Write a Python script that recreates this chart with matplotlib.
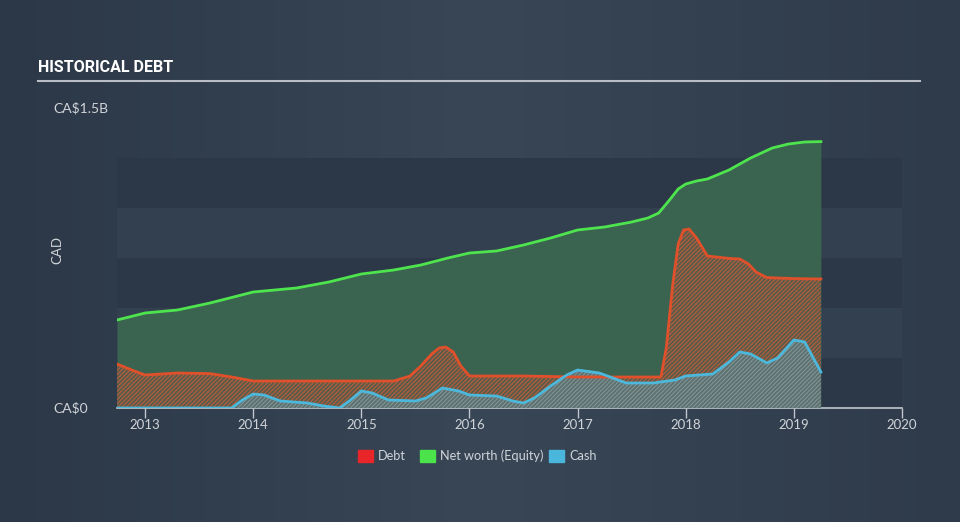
import matplotlib.pyplot as plt
import matplotlib.colors as mcolors
import numpy as np

# values in CA$ billions, x in decimal years
equity_x = [2012.74, 2013.0, 2013.3, 2013.6, 2014.0, 2014.4, 2014.7, 2015.0,
            2015.3, 2015.55, 2015.8, 2016.0, 2016.25, 2016.5, 2016.75, 2017.0,
            2017.25, 2017.5, 2017.65, 2017.75, 2017.85, 2017.93, 2018.0,
            2018.1, 2018.2, 2018.4, 2018.6, 2018.8, 2018.95, 2019.1, 2019.25]
equity_y = [0.44, 0.475, 0.49, 0.525, 0.58, 0.60, 0.63, 0.67,
            0.69, 0.715, 0.75, 0.775, 0.785, 0.815, 0.85, 0.89,
            0.905, 0.93, 0.95, 0.975, 1.04, 1.095, 1.12,
            1.135, 1.145, 1.19, 1.25, 1.30, 1.32, 1.33, 1.332]

debt_x = [2012.74, 2012.9, 2013.0, 2013.3, 2013.6, 2013.8, 2014.0, 2014.5,
          2015.0, 2015.3, 2015.45, 2015.55, 2015.65, 2015.72, 2015.78, 2015.85,
          2015.92, 2016.0, 2016.5, 2017.0, 2017.5, 2017.77, 2017.82, 2017.88,
          2017.93, 2017.98, 2018.03, 2018.1, 2018.2, 2018.4, 2018.5, 2018.58,
          2018.65, 2018.75, 2019.0, 2019.25]
debt_y = [0.22, 0.185, 0.165, 0.175, 0.172, 0.155, 0.135, 0.135,
          0.135, 0.135, 0.16, 0.21, 0.27, 0.30, 0.305, 0.28,
          0.21, 0.16, 0.16, 0.155, 0.155, 0.155, 0.30, 0.62,
          0.82, 0.89, 0.895, 0.85, 0.76, 0.748, 0.745, 0.72,
          0.68, 0.652, 0.647, 0.645]

cash_x = [2012.74, 2013.0, 2013.5, 2013.8, 2013.9, 2014.0, 2014.1, 2014.25,
          2014.5, 2014.65, 2014.8, 2014.9, 2015.0, 2015.1, 2015.25, 2015.5,
          2015.6, 2015.75, 2015.9, 2016.0, 2016.25, 2016.4, 2016.5, 2016.6,
          2016.75, 2016.9, 2017.0, 2017.2, 2017.45, 2017.7, 2017.9, 2018.0,
          2018.25, 2018.4, 2018.5, 2018.6, 2018.75, 2018.85, 2019.0, 2019.1,
          2019.25]
cash_y = [0.0, 0.0, 0.0, 0.0, 0.04, 0.07, 0.065, 0.035,
          0.025, 0.01, 0.0, 0.04, 0.085, 0.075, 0.04, 0.035,
          0.05, 0.10, 0.085, 0.065, 0.06, 0.035, 0.025, 0.05,
          0.11, 0.165, 0.19, 0.175, 0.125, 0.125, 0.14, 0.16,
          0.17, 0.23, 0.28, 0.27, 0.225, 0.25, 0.34, 0.33,
          0.18]

year_ticks = [2013, 2014, 2015, 2016, 2017, 2018, 2019, 2020]

text_col = '#d0d4d9'

fig = plt.figure(figsize=(9.6, 5.22), dpi=100)
fig.patch.set_facecolor('#323f4f')

# soft background gradient
bg = fig.add_axes([0, 0, 1, 1], zorder=-10)
grad = np.linspace(0, 1, 256).reshape(1, -1)
cmap = mcolors.LinearSegmentedColormap.from_list('bg', ['#2c3847', '#384656', '#2f3b4a'])
bg.imshow(grad, aspect='auto', cmap=cmap, extent=[0, 1, 0, 1])
bg.set_axis_off()

ax = fig.add_axes([117 / 960, 1 - 408 / 522, 785 / 960, 300 / 522])
ax.set_facecolor('none')
ax.set_xlim(2012.74, 2020.0)
ax.set_ylim(0, 1.5)

# horizontal bands
band_edges = [0, 0.25, 0.5, 0.75, 1.0, 1.25]
for i in range(len(band_edges) - 1):
    c = '#2c3847' if i % 2 == 0 else '#334050'
    ax.axhspan(band_edges[i], band_edges[i + 1], color=c, zorder=0, lw=0)

plt.rcParams['hatch.linewidth'] = 0.8

ax.fill_between(equity_x, equity_y, color='#3a6350', zorder=1, lw=0)
ax.plot(equity_x, equity_y, color='#4ee44e', lw=2, zorder=5)

ax.fill_between(debt_x, debt_y, facecolor='#5b5a4a', edgecolor='#b5603c',
                hatch='////////', lw=0, zorder=2)
ax.plot(debt_x, debt_y, color='#e0502a', lw=2, zorder=5)

ax.fill_between(cash_x, cash_y, facecolor='#5e706d', edgecolor='#7f9598',
                hatch='////////', lw=0, zorder=3)
ax.plot(cash_x, cash_y, color='#4cb8dc', lw=2, zorder=6)

for s in ['top', 'right', 'left']:
    ax.spines[s].set_visible(False)
ax.spines['bottom'].set_color('#c0c6cc')
ax.spines['bottom'].set_linewidth(1.2)
ax.set_yticks([])
ax.set_xticks(year_ticks)
ax.set_xticklabels([str(y) for y in year_ticks])
ax.tick_params(axis='x', colors='#c0c6cc', labelcolor=text_col, length=7,
               width=1, labelsize=9.5, pad=1)
for lab in ax.get_xticklabels():
    lab.set_family('Lato')

# y labels
fig.text(53 / 960, 1 - 108 / 522, 'CA$1.5B', color=text_col, fontsize=10,
         family='Lato', va='center', ha='left')
fig.text(53 / 960, 1 - 408 / 522, 'CA$0', color=text_col, fontsize=10,
         family='Lato', va='center', ha='left')
fig.text(57 / 960, 1 - 250 / 522, 'CAD', color=text_col, fontsize=9.5,
         family='Lato', va='center', ha='center', rotation=90)

# title
fig.text(38 / 960, 1 - 68 / 522, 'HISTORICAL DEBT', color='white', fontsize=11.5,
         family='Roboto', weight='bold', va='center', ha='left')
fig.add_artist(plt.Line2D([38 / 960, 920 / 960], [1 - 81 / 522, 1 - 81 / 522],
                          color='#b8bec4', lw=1.5))

# legend
items = [('Debt', '#e8262a', 358), ('Net worth (Equity)', '#4be24b', 420),
         ('Cash', '#4ab6dc', 549)]
for label, col, px in items:
    fig.patches.append(plt.Rectangle((px / 960, 1 - 462 / 522), 15 / 960, 12 / 522,
                                     color=col, transform=fig.transFigure))
    fig.text((px + 20) / 960, 1 - 456 / 522, label, color=text_col, fontsize=9.2,
             family='Lato', va='center', ha='left')

plt.savefig('out.png', dpi=100, facecolor=fig.get_facecolor())
plt.close()
